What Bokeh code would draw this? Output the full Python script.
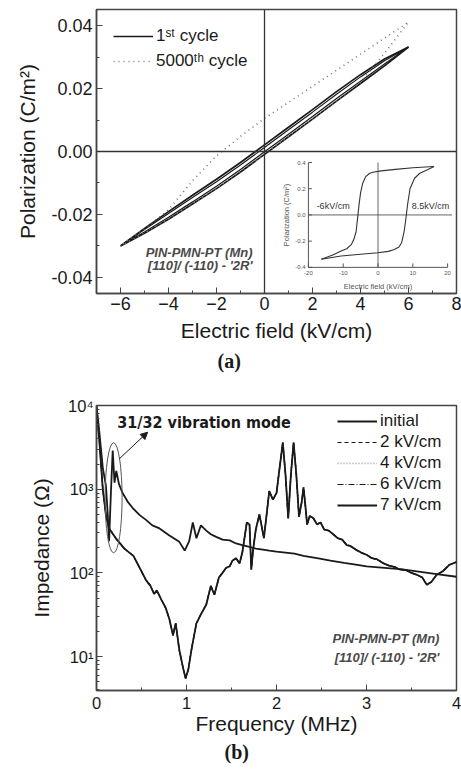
import math
from bokeh.plotting import figure
from bokeh.layouts import column
from bokeh.models import (Range1d, Span, Legend, LegendItem, SingleIntervalTicker,
                          NumeralTickFormatter, Title, Arrow, NormalHead, Label, LogTicker)
from bokeh.core.properties import value
from bokeh.embed import file_html
from bokeh.resources import INLINE

FONT = "Liberation Sans"
INK = "#1a1a1a"
FRAME = "#444444"

# ---------------- panel (a): P-E loops ----------------
field_kv = [-6, -5, -4, -3, -2, -1, 0, 1, 2, 3, 4, 5, 6]
# 1st cycle, two nested traces: increasing-field (lower) and decreasing-field (upper) branches
cyc1_outer_lower = [-0.0300, -0.0260, -0.0215, -0.0167, -0.0118, -0.0065, -0.0009, 0.0047, 0.0103, 0.0160, 0.0216, 0.0272, 0.0332]
cyc1_outer_upper = [-0.0300, -0.0244, -0.0191, -0.0139, -0.0088, -0.0035, 0.0021, 0.0077, 0.0133, 0.0190, 0.0244, 0.0294, 0.0332]
cyc1_inner_lower = [-0.0300, -0.0256, -0.0209, -0.0160, -0.0110, -0.0057, -0.0001, 0.0055, 0.0111, 0.0168, 0.0223, 0.0278, 0.0332]
cyc1_inner_upper = [-0.0300, -0.0248, -0.0197, -0.0146, -0.0096, -0.0043, 0.0013, 0.0069, 0.0125, 0.0182, 0.0237, 0.0288, 0.0332]
# 5000th cycle
cyc5000_lower = [-0.0300, -0.0259, -0.0214, -0.0166, -0.0117, -0.0064, -0.0008, 0.0048, 0.0104, 0.0161, 0.0220, 0.0312, 0.0411]
cyc5000_upper = [-0.0300, -0.0245, -0.0185, -0.0093, -0.0014, 0.0048, 0.0105, 0.0156, 0.0207, 0.0258, 0.0309, 0.0360, 0.0411]

# inset: full hysteresis loop
inset_E_rise = [-16.3, -10.6, -5.0, -0.1, 3.0, 4.7, 6.0, 6.8, 7.5, 8.0, 8.5, 9.2, 10.5, 12.0, 14.2, 16.1]
inset_P_rise = [-0.338, -0.313, -0.300, -0.289, -0.278, -0.264, -0.245, -0.210, -0.128, -0.030, 0.080, 0.200, 0.280, 0.318, 0.345, 0.370]
inset_E_fall = [16.1, 10.0, 5.0, 0.9, -1.5, -2.5, -3.6, -4.4, -5.0, -5.4, -5.8, -6.3, -7.0, -7.7, -9.0, -10.6, -13.0, -16.3]
inset_P_fall = [0.370, 0.360, 0.348, 0.336, 0.326, 0.316, 0.290, 0.242, 0.170, 0.090, -0.005, -0.128, -0.190, -0.227, -0.258, -0.276, -0.305, -0.338]
inset_xrange = (-20, 20)
inset_yrange = (-0.4, 0.4)
inset_xticks = [-20, -10, 0, 10, 20]
inset_xlabels = ["-20", "-10", "0", "10", "20"]
inset_yticks = [-0.4, -0.2, 0.0, 0.2, 0.4]
inset_ylabels = ["-0.4", "-0.2", "0.0", "0.2", "0.4"]
# where the inset sits, in main-plot data units
inset_target_x = (1.83, 7.63)
inset_target_y = (-0.0368, -0.0035)

# ---------------- panel (b): impedance spectra ----------------
freq_res = [0.0, 0.03, 0.07, 0.105, 0.14, 0.22, 0.31, 0.41, 0.48, 0.55, 0.60, 0.64, 0.67, 0.72, 0.77, 0.81,
            0.85, 0.88, 0.92, 0.96, 0.99, 1.02, 1.06, 1.11, 1.16, 1.22, 1.27, 1.31, 1.36, 1.40, 1.44, 1.48,
            1.51, 1.55, 1.59, 1.62, 1.67, 1.70, 1.72, 1.74, 1.77, 1.81, 1.86, 1.92, 1.96, 2.00, 2.04, 2.07,
            2.10, 2.13, 2.16, 2.19, 2.22, 2.25, 2.28, 2.30, 2.32, 2.34, 2.37, 2.41, 2.45, 2.49, 2.53, 2.58,
            2.63, 2.68, 2.73, 2.78, 2.82, 2.88, 2.94, 3.00, 3.06, 3.12, 3.19, 3.25, 3.31, 3.37, 3.44, 3.50,
            3.56, 3.62, 3.67, 3.72, 3.78, 3.85, 3.92, 4.00]
imp_res = [9500, 4000, 1000, 490, 340, 255, 195, 160, 115, 82, 70, 56, 62, 48, 38, 28,
           18, 25, 12, 7.5, 5.5, 7, 13, 25, 32, 42, 70, 55, 88, 100, 115, 120,
           140, 150, 130, 175, 400, 380, 110, 190, 330, 500, 260, 950, 750, 900, 2000, 3600,
           1500, 450, 1500, 3600, 1500, 470, 700, 1050, 650, 380, 480, 450, 380, 400, 330, 320,
           290, 260, 250, 215, 210, 190, 175, 165, 150, 145, 130, 122, 118, 110, 108, 100,
           95, 88, 72, 78, 95, 105, 125, 135]
freq_flat = [0.0, 0.03, 0.07, 0.105, 0.125, 0.14, 0.16, 0.18, 0.20, 0.22, 0.25, 0.29, 0.35, 0.40, 0.48, 0.55,
             0.62, 0.70, 0.81, 0.92, 0.98, 1.03, 1.07, 1.11, 1.16, 1.22, 1.27, 1.33, 1.40, 1.48, 1.55, 1.62,
             1.70, 1.77, 1.85, 1.92, 2.00, 2.10, 2.20, 2.30, 2.45, 2.60, 2.75, 2.90, 3.00, 3.20, 3.40, 3.60,
             3.80, 4.00]
imp_flat = [10000, 5000, 1800, 1100, 500, 240, 900, 2900, 1200, 1650, 1150, 900, 700, 600, 490, 430,
            370, 340, 280, 235, 185, 240, 400, 260, 370, 320, 290, 270, 250, 245, 225, 215,
            205, 195, 190, 185, 180, 175, 170, 160, 150, 140, 132, 125, 120, 115, 110, 103,
            96, 90]
log_labels = {10: "10¹", 100: "10²", 1000: "10³", 10000: "10⁴"}

# annotation anchors (data units)
mode_ellipse = (0.19, 790)
mode_arrow = (0.253, 2306, 0.568, 4797)


def style_axes(p, tick_size, title_size):
    for ax in p.axis:
        ax.axis_line_color = FRAME
        ax.axis_line_width = 1.5
        ax.major_tick_line_color = FRAME
        ax.minor_tick_line_color = FRAME
        ax.major_tick_in = 6
        ax.major_tick_out = 0
        ax.minor_tick_in = 3
        ax.minor_tick_out = 0
        ax.major_label_text_font = FONT
        ax.major_label_text_font_size = tick_size
        ax.major_label_text_color = INK
        ax.axis_label_text_font = FONT
        ax.axis_label_text_font_size = title_size
        ax.axis_label_text_font_style = "normal"
        ax.axis_label_text_color = INK
    p.outline_line_color = FRAME
    p.outline_line_width = 1.5
    p.grid.visible = False


# ================= figure (a) =================
p1 = figure(width=461, height=380, x_range=Range1d(-7, 8), y_range=Range1d(-0.0451, 0.0451),
            output_backend="svg", toolbar_location=None,
            min_border_left=96, min_border_right=5, min_border_top=9, min_border_bottom=87)
p1.xaxis.ticker = SingleIntervalTicker(interval=2, num_minor_ticks=2)
p1.yaxis.ticker = SingleIntervalTicker(interval=0.02, num_minor_ticks=2)
p1.yaxis.formatter = NumeralTickFormatter(format="0.00")
p1.xaxis.axis_label = "Electric field (kV/cm)"
p1.yaxis.axis_label = "Polarization (C/m²)"
style_axes(p1, "18px", "21px")
p1.xaxis.major_label_standoff = 3
p1.yaxis.major_label_standoff = 4
p1.xaxis.axis_label_standoff = 6
p1.yaxis.axis_label_standoff = 9

p1.add_layout(Span(location=0, dimension="height", line_color="#333333", line_width=1.3))
p1.add_layout(Span(location=0, dimension="width", line_color="#333333", line_width=1.3))

loop_x = field_kv + field_kv[::-1]
r1 = p1.line(loop_x, cyc1_outer_lower + cyc1_outer_upper[::-1], line_color=INK, line_width=1.7)
p1.line(loop_x, cyc1_inner_lower + cyc1_inner_upper[::-1], line_color=INK, line_width=1.2)
r5000 = p1.line(loop_x, cyc5000_lower + cyc5000_upper[::-1], line_color="#777777",
                line_width=1.6, line_dash="1 4")

leg1 = Legend(items=[LegendItem(label="1ˢᵗ cycle", renderers=[r1]),
                     LegendItem(label="5000ᵗʰ cycle", renderers=[r5000])],
              location="top_left", margin=0, padding=17, spacing=5,
              glyph_width=40, glyph_height=20, label_height=20, label_standoff=3,
              label_text_font=FONT, label_text_font_size="17px", label_text_color=INK,
              background_fill_alpha=0, border_line_alpha=0)
p1.add_layout(leg1)

for txt, yy in [("PIN-PMN-PT (Mn)", -0.0321), ("[110]/ (-110) - '2R'", -0.0363)]:
    p1.add_layout(Label(x=-0.5, y=yy, text=txt, text_align="right", text_baseline="middle",
                        text_font=FONT, text_font_size="13px", text_font_style="bold italic",
                        text_color="#4a4a4a"))

# inset
ins = p1.subplot(x_source=Range1d(*inset_xrange), y_source=Range1d(*inset_yrange),
                 x_target=Range1d(*inset_target_x), y_target=Range1d(*inset_target_y))
x0, x1 = inset_xrange
y0, y1 = inset_yrange
ax_col = "#555555"
ins.line([x0, x0], [y0, y1], line_color=ax_col, line_width=1)
ins.line([x0, x1], [y0, y0], line_color=ax_col, line_width=1)
ins.line([0, 0], [y0, y1], line_color=ax_col, line_width=0.9)
ins.line([x0, x1 + 1.3], [0, 0], line_color=ax_col, line_width=0.9)
ins.segment(x0=inset_xticks, y0=[y0] * 5, x1=inset_xticks, y1=[y0 + 0.03] * 5, line_color=ax_col)
ins.segment(x0=[x0] * 5, y0=inset_yticks, x1=[x0 + 1.0] * 5, y1=inset_yticks, line_color=ax_col)
ins.text(x=inset_xticks, y=[y0 - 0.025] * 5, text=inset_xlabels, text_align="center",
         text_baseline="top", text_font=value(FONT), text_font_size="6px", text_color="#555555")
ins.text(x=[x0 - 0.8] * 5, y=inset_yticks, text=inset_ylabels, text_align="right",
         text_baseline="middle", text_font=value(FONT), text_font_size="6px", text_color="#555555")
ins.text(x=[0.0], y=[y0 - 0.11], text=["Electric field (kV/cm)"], text_align="center",
         text_baseline="top", text_font=value(FONT), text_font_size="7.5px", text_color="#555555")
ins.text(x=[x0 - 6.3], y=[0.0], text=["Polarization (C/m²)"], angle=math.pi / 2, text_align="center",
         text_baseline="middle", text_font=value(FONT), text_font_size="7.5px", text_color="#555555")
ins.line(inset_E_rise, inset_P_rise, line_color="#333333", line_width=1.1)
ins.line(inset_E_fall, inset_P_fall, line_color="#333333", line_width=1.1)
ins.text(x=[-12.9, 15.1], y=[0.067, 0.067], text=["-6kV/cm", "8.5kV/cm"], text_align="center",
         text_baseline="middle", text_font=value(FONT), text_font_size="9px", text_color="#333333")

p1.add_layout(Title(text="(a)", align="left", offset=121, standoff=6, text_font="Liberation Serif",
                    text_font_style="bold", text_font_size="20px", text_color=INK), "below")

# ================= figure (b) =================
p2 = figure(width=461, height=389, x_range=Range1d(0, 4), y_range=Range1d(3.94, 10000),
            y_axis_type="log", output_backend="svg", toolbar_location=None,
            min_border_left=96, min_border_right=5, min_border_top=25, min_border_bottom=79)
p2.xaxis.ticker = SingleIntervalTicker(interval=1, num_minor_ticks=2)
p2.yaxis.ticker = LogTicker(num_minor_ticks=10)
p2.yaxis.major_label_overrides = log_labels
p2.xaxis.axis_label = "Frequency (MHz)"
p2.yaxis.axis_label = "Impedance (Ω)"
style_axes(p2, "16.5px", "21px")
p2.xaxis.major_label_standoff = 6
p2.yaxis.major_label_standoff = 3
p2.xaxis.axis_label_standoff = 0
p2.yaxis.axis_label_standoff = 12

r7 = p2.line(freq_flat, imp_flat, line_color=INK, line_width=1.8)
r4 = p2.line(freq_res, imp_res, line_color="#999999", line_width=1.6, line_dash="1 2")
r2 = p2.line(freq_res, imp_res, line_color=INK, line_width=1.2, line_dash="4 3")
r6 = p2.line(freq_res, imp_res, line_color=INK, line_width=1.2, line_dash="6 2 1 2")
r0 = p2.line(freq_res, imp_res, line_color=INK, line_width=1.8)

leg2 = Legend(items=[LegendItem(label="initial", renderers=[r0]),
                     LegendItem(label="2 kV/cm", renderers=[r2]),
                     LegendItem(label="4 kV/cm", renderers=[r4]),
                     LegendItem(label="6 kV/cm", renderers=[r6]),
                     LegendItem(label="7 kV/cm", renderers=[r7])],
              location="top_right", margin=0, padding=6, spacing=1,
              glyph_width=40, glyph_height=20, label_height=20, label_width=70, label_standoff=3,
              label_text_font=FONT, label_text_font_size="17px", label_text_color=INK,
              background_fill_alpha=0, border_line_alpha=0)
p2.add_layout(leg2)

p2.ellipse(x=[mode_ellipse[0]], y=[mode_ellipse[1]], width=17, height=110,
           width_units="screen", height_units="screen", fill_alpha=0,
           line_color="#555555", line_width=1)
p2.add_layout(Arrow(end=NormalHead(size=7, fill_color=INK, line_color=INK),
                    x_start=mode_arrow[0], y_start=mode_arrow[1], x_end=mode_arrow[2], y_end=mode_arrow[3],
                    line_color=INK, line_width=1))
p2.add_layout(Label(x=0.23, y=6300, text="31/32 vibration mode", text_baseline="middle",
                    text_font="DejaVu Sans Condensed, DejaVu Sans", text_font_style="bold",
                    text_font_size="16px", text_color=INK))
for txt, yy in [("PIN-PMN-PT (Mn)", 16.4), ("[110]/ (-110) - '2R'", 9.75)]:
    p2.add_layout(Label(x=3.81, y=yy, text=txt, text_align="right", text_baseline="middle",
                        text_font=FONT, text_font_size="13px", text_font_style="bold italic",
                        text_color="#4a4a4a"))

p2.add_layout(Title(text="(b)", align="left", offset=128, standoff=2, text_font="Liberation Serif",
                    text_font_style="bold", text_font_size="20px", text_color=INK), "below")

layout = column(p1, p2)
open("out.html", "w").write(file_html(layout, INLINE))
